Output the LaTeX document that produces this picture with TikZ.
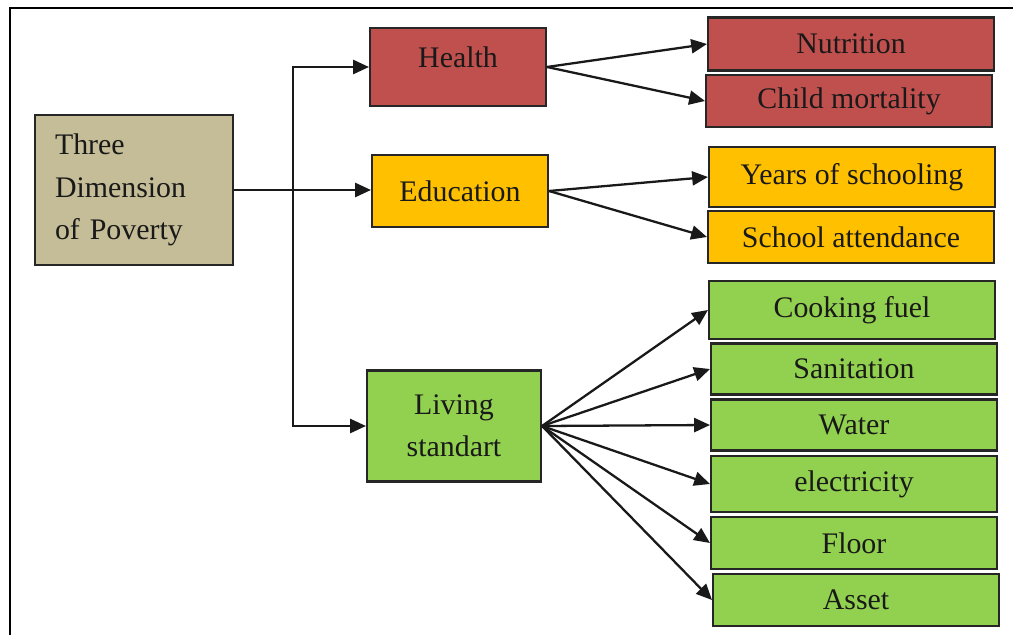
\documentclass[tikz,border=0pt]{standalone}
\usepackage{fontspec}
\setmainfont{Liberation Serif}
\usetikzlibrary{arrows.meta}

\definecolor{povtan}{HTML}{C4BD97}
\definecolor{healthred}{HTML}{C0504D}
\definecolor{eduorange}{HTML}{FFC000}
\definecolor{livgreen}{HTML}{92D050}

\begin{document}
\begin{tikzpicture}
    [x=0.02cm, y=-0.02cm,
    box/.style={rectangle, draw=black!85, line width=1.2pt, inner sep=0pt,
        font=\fontsize{17}{24}\selectfont, text=black!90},
    dimbox/.style={box, minimum width=3.52cm},
    leaf/.style={box, minimum width=5.72cm},
    link/.style={line width=1.3pt, black!90},
    arrow/.style={link, -{Triangle[length=9pt, width=8pt]}}]

    \useasboundingbox (0,0) rectangle (1013,635);

    % outer frame (only top and left edges visible)
    \draw[line width=1.7pt] (10,635) -- (10,8) -- (1013,8);

    % root
    \node[box, fill=povtan, minimum width=3.96cm, minimum height=3cm,
        text width=3.16cm, align=left] (poverty) at (134,190)
        {Three\\Dimension\\of Poverty};

    % the three dimensions
    \node[dimbox, fill=healthred, text height=0.8cm, text depth=0.76cm] (health) at (458,67) {Health};
    \node[dimbox, fill=eduorange, minimum height=1.44cm] (education) at (460,191) {Education};
    \node[dimbox, fill=livgreen, minimum width=3.48cm, minimum height=2.22cm, align=center] (living) at (454,426) {Living\\standart};

    % indicators
    \node[leaf, fill=healthred, minimum height=1.06cm] (nutrition) at (851,44) {Nutrition};
    \node[leaf, fill=healthred, minimum height=1.04cm] (mortality) at (849,101) {Child mortality};
    \node[leaf, fill=eduorange, minimum height=1.2cm] (years) at (852,177) {Years of schooling};
    \node[leaf, fill=eduorange, minimum height=1.04cm] (attendance) at (851,237) {School attendance};
    \node[leaf, fill=livgreen, minimum height=1.16cm] (cooking) at (852,310) {Cooking fuel};
    \node[leaf, fill=livgreen, minimum height=1.02cm] (sanitation) at (854,369) {Sanitation};
    \node[leaf, fill=livgreen, minimum height=1.02cm] (water) at (854,425) {Water};
    \node[leaf, fill=livgreen, minimum height=1.12cm] (electricity) at (854,484) {electricity};
    \node[leaf, fill=livgreen, minimum height=1.04cm] (floor) at (854,543) {Floor};
    \node[leaf, fill=livgreen, minimum height=1.04cm] (asset) at (856,600) {Asset};

    % root to dimensions
    \coordinate (split) at (293,190);
    \draw[arrow] (poverty.east) -- (poverty.east -| education.west);
    \draw[arrow] (split) |- (health.west);
    \draw[arrow] (split) |- (living.west);

    % dimensions to indicators
    \foreach \leafname in {nutrition, mortality}
        \draw[arrow] (health.east) -- (\leafname.west);
    \foreach \leafname in {years, attendance}
        \draw[arrow] (education.east) -- (\leafname.west);
    \foreach \leafname in {cooking, sanitation, water, electricity, floor, asset}
        \draw[arrow] (living.east) -- (\leafname.west);

\end{tikzpicture}
\end{document}
